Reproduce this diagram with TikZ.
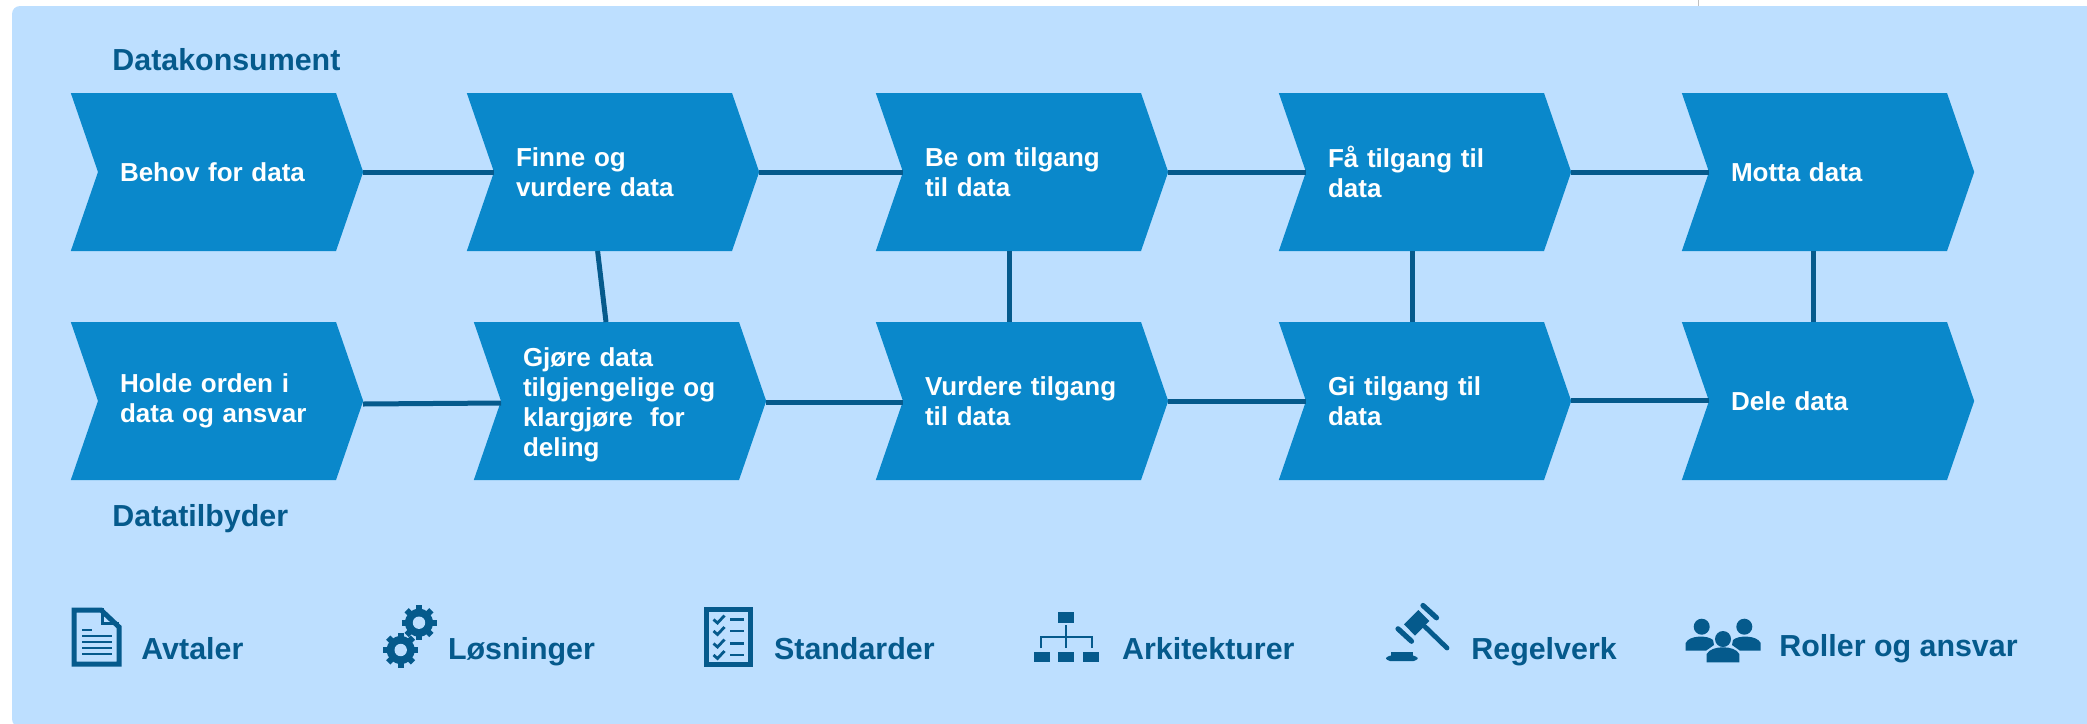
\documentclass[tikz,border=0pt]{standalone}
\usepackage{fontspec}
\setmainfont{Liberation Sans}
\usetikzlibrary{positioning,calc,shapes.symbols}
\definecolor{panelblue}{HTML}{BDDFFF}
\definecolor{stepblue}{HTML}{0A88CB}
\definecolor{darkblue}{HTML}{055A8C}
\tikzset{
  chevron/.style={shape=signal,signal from=west,signal to=east,signal pointer angle=142,
    fill=stepblue,text=white,font=\fontsize{13}{15}\selectfont\bfseries,align=left,
    text width=97pt,inner xsep=11pt,inner ysep=0pt,outer sep=0pt,minimum height=79pt},
  link/.style={draw=darkblue,line width=2.5pt},
  role/.style={text=darkblue,font=\fontsize{15.2}{18}\selectfont\bfseries,anchor=base west,inner sep=0pt},
  iconline/.style={draw=darkblue,line width=2.5pt},
  iconthin/.style={draw=darkblue,line width=1.25pt},
  gear/.pic={
    \fill[darkblue] (0,0) circle (14);
    \foreach \a in {0,45,...,315}
      \draw[darkblue,line width=3pt] (\a:10) -- (\a:17.5);
    \fill[panelblue] (0,0) circle (6.2);
  }
}
\begin{document}
\begin{tikzpicture}[x=0.5pt,y=-0.5pt,node distance=100pt,on grid]
   	\useasboundingbox (0,0) rectangle (2087,723);
   	\fill[panelblue,rounded corners=4pt] (12,6) rectangle (2120,727);
   	\draw[gray!50,line width=0.5pt] (1698,0) -- (1698,6);
   	% top row
   	\node[chevron](behov) at (217,172){Behov for data};
   	\node[chevron][right=198pt of behov](finne){Finne og\\vurdere data};
   	\node[chevron][right=204.5pt of finne](beom){Be om tilgang\\til data};
   	\node[chevron][right=201.5pt of beom](faa){Få tilgang til\\data};
   	\node[chevron][right=201.5pt of faa](motta){Motta data};
   	% bottom row
   	\node[chevron][below=114.5pt of behov](holde){Holde orden i\\data og ansvar};
   	\node[chevron][right=201.5pt of holde](gjore){\rule{0pt}{13.5pt}Gjøre data\\\mbox{tilgjengelige og}\\klargjøre\ \ for\\deling};
   	\node[chevron][below=114.5pt of beom](vurdere){\mbox{Vurdere tilgang}\\til data};
   	\node[chevron][below=114.5pt of faa](gi){Gi tilgang til\\data};
   	\node[chevron][below=114.5pt of motta](dele){Dele data};
   	\node[role](konsument) at (112,70){Datakonsument};
   	\node[role](tilbyder) at (112,526){Datatilbyder};
   	% links
   	\draw[link] (behov.east) -- (finne.west);
   	\draw[link] (finne.east) -- (beom.west);
   	\draw[link] (beom.east) -- (faa.west);
   	\draw[link] (faa.east) -- (motta.west);
   	\draw[link] ([yshift=-1.5pt]holde.east) -- ([yshift=-1pt]gjore.west);
   	\draw[link] ([yshift=-0.5pt]gjore.east) -- ([yshift=-0.5pt]vurdere.west);
   	\draw[link] (vurdere.east) -- (gi.west);
   	\draw[link] ([yshift=0.5pt]gi.east) -- ([yshift=0.5pt]dele.west);
   	\draw[link] ([xshift=-7.7pt]finne.south) -- ([xshift=-7pt]gjore.north);
   	\draw[link] ([xshift=-6.5pt]beom.south) -- ([xshift=-6.5pt]vurdere.north);
   	\draw[link] ([xshift=-6.3pt]faa.south) -- ([xshift=-6.3pt]gi.north);
   	\draw[link] ([xshift=-7.2pt]motta.south) -- ([xshift=-7.2pt]dele.north);
   	% legend
   	\node[role](avtaler) at (141,659){Avtaler};
   	\node[role](losninger) at (447.6,659){Løsninger};
   	\node[role](standarder) at (773.7,659){Standarder};
   	\node[role](arkitekturer) at (1121.8,659){Arkitekturer};
   	\node[role](regelverk) at (1471,659){Regelverk};
   	\node[role](roller) at (1779,656){Roller og ansvar};
   	% document icon
   	\draw[iconline,miter limit=4] (74,610) -- (101,610) -- (119,627) -- (119,664) -- (74,664) -- cycle;
   	\draw[iconline,line width=1.5pt] (102,608) -- (102,623.5) -- (119,623.5);
   	\draw[iconthin] (82,630) -- (91.5,630);
   	\foreach \y in {636,642,648,654}
   		\draw[iconthin] (82,\y) -- (112,\y);
   	% gears
   	\pic at (419,622.7) {gear};
   	\pic at (400.7,650) {gear};
   	% checklist icon
   	\draw[iconline] (706.5,609.5) rectangle (750.5,664.5);
   	\foreach \y in {619.5,631,643.5,655}{
   		\draw[iconthin,line width=1.4pt] (713.5,\y) -- (717.5,\y+3.5) -- (724.5,\y-4);
   		\draw[iconthin] (730,\y) -- (744,\y);
   	}
   	% org chart icon
   	\fill[darkblue] (1058,612) rectangle (1074,622.5);
   	\fill[darkblue] (1034,652) rectangle (1050,662);
   	\fill[darkblue] (1058,652) rectangle (1074,662);
   	\fill[darkblue] (1082.6,652) rectangle (1098.6,662);
   	\draw[iconthin,line width=1pt] (1066,625) -- (1066,648) (1041,648) -- (1041,636.7) -- (1091.5,636.7) -- (1091.5,648);
   	% gavel icon
   	\fill[darkblue] (1418.3,610) -- (1429.3,621) -- (1415,635.7) -- (1404,624.3) -- cycle;
   	\draw[darkblue,line width=2.6pt,line cap=round] (1423,605.5) -- (1436.5,617.8);
   	\draw[darkblue,line width=2.6pt,line cap=round] (1398,628.8) -- (1411.5,641.2);
   	\draw[darkblue,line width=2.4pt,line cap=round] (1425,626.7) -- (1447,648);
   	\fill[darkblue,rounded corners=2pt] (1386,655.7) rectangle (1417.7,661);
   	\fill[darkblue] (1390.7,652.3) rectangle (1412.7,657);
   	% people icon
   	\fill[darkblue] (1701.7,626.7) ellipse [x radius=8,y radius=8];
   	\fill[darkblue] (1744.3,626.7) ellipse [x radius=8,y radius=8];
   	\fill[darkblue] (1723,639) ellipse [x radius=8,y radius=8];
   	\fill[darkblue] (1685.7,650.7) -- (1685.7,643) .. controls (1689,635) and (1708,635) .. (1713,640) -- (1714,645) -- (1706,650.7) -- cycle;
   	\fill[darkblue] (1760.7,650.7) -- (1760.7,643) .. controls (1757,635) and (1738,635) .. (1733,640) -- (1732,645) -- (1740,650.7) -- cycle;
   	\fill[darkblue] (1706.7,662.3) -- (1706.7,654) .. controls (1711,645) and (1735,645) .. (1739.3,654) -- (1739.3,662.3) -- cycle;
\end{tikzpicture}
\end{document}
